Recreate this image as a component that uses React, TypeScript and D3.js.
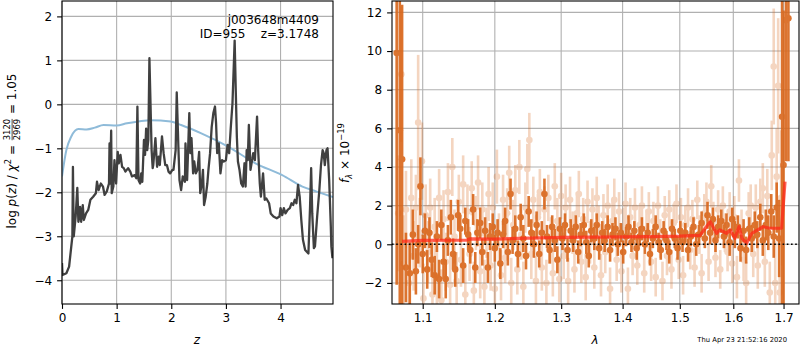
import React, { useEffect, useRef } from 'react';
import * as d3 from 'd3';

const W = 800;
const H = 350;
const FONT = 'DejaVu Sans, sans-serif';
const FS = 12;

// left panel: log p(z) trace (black) and smooth prior-like curve (blue)
const pzPoints: [number, number][] = [
  [0.0, -3.61], [0.01, -3.88], [0.08, -3.84], [0.13, -3.69], [0.17, -3.23], [0.19, -3.0],
  [0.2, -1.42], [0.215, -3.0], [0.25, -2.55], [0.28, -1.9], [0.3, -2.67], [0.33, -2.33],
  [0.35, -2.67], [0.38, -2.29], [0.4, -2.63], [0.44, -2.48], [0.48, -2.4], [0.52, -2.17],
  [0.57, -2.1], [0.62, -2.02], [0.64, -1.76], [0.67, -1.95], [0.71, -1.8], [0.75, -1.87],
  [0.78, -2.06], [0.82, -1.98], [0.86, -1.8], [0.87, -0.89], [0.88, -1.8], [0.9, -0.6],
  [0.91, -2.02], [0.94, -1.87], [0.96, -1.27], [0.99, -1.8], [1.02, -1.08], [1.04, -1.34],
  [1.07, -1.15], [1.1, -1.42], [1.13, -1.45], [1.16, -1.53], [1.21, -1.45], [1.25, -1.53],
  [1.28, -1.64], [1.33, -1.61], [1.36, -1.68], [1.38, -0.05], [1.4, -1.72], [1.43, -1.8],
  [1.45, -1.57], [1.47, -1.76], [1.5, -0.81], [1.52, -1.15], [1.54, -0.55], [1.56, -1.04],
  [1.58, -0.81], [1.6, 1.05], [1.64, -1.04], [1.66, -1.45], [1.67, -1.38], [1.71, -0.77],
  [1.74, -1.42], [1.77, -1.19], [1.79, -1.38], [1.83, -0.73], [1.86, -1.11], [1.89, -1.38],
  [1.92, -1.38], [1.95, -1.53], [1.98, -1.57], [2.02, -1.49], [2.04, -1.49], [2.08, -1.04],
  [2.1, 0.27], [2.13, -0.96], [2.15, -1.72], [2.18, -1.95], [2.21, -1.64], [2.25, -1.76],
  [2.26, -0.89], [2.29, -1.72], [2.33, -0.2], [2.35, -1.11], [2.37, -0.77], [2.4, -1.57],
  [2.42, -1.3], [2.45, -1.57], [2.48, -1.49], [2.51, -1.08], [2.53, -2.02], [2.56, -1.8],
  [2.58, -1.49], [2.6, -2.29], [2.63, -2.1], [2.66, -1.8], [2.68, -1.49], [2.71, -1.11],
  [2.74, -0.51], [2.77, -0.2], [2.8, -0.05], [2.82, -0.43], [2.84, -1.11], [2.87, -0.89],
  [2.9, -1.57], [2.93, -1.27], [2.96, -1.3], [3.0, -1.27], [3.03, -0.92], [3.06, -1.11],
  [3.09, -0.51], [3.12, 0.02], [3.16, 1.45], [3.18, 0.33], [3.2, -0.73], [3.22, -1.3],
  [3.25, -1.5], [3.28, -1.8], [3.31, -1.87], [3.34, -1.34], [3.36, -1.87], [3.38, -1.04],
  [3.4, -1.27], [3.42, -0.47], [3.45, -1.49], [3.5, -1.11], [3.53, -1.27], [3.57, -0.28],
  [3.59, -1.04], [3.62, -1.8], [3.64, -2.1], [3.68, -1.57], [3.71, -2.17], [3.74, -2.14],
  [3.79, -2.25], [3.82, -2.48], [3.87, -2.55], [3.93, -2.59], [3.98, -2.55], [4.0, -2.36],
  [4.03, -2.52], [4.06, -2.36], [4.09, -2.48], [4.13, -2.4], [4.17, -2.36], [4.2, -2.25],
  [4.23, -2.29], [4.26, -2.17], [4.29, -2.25], [4.32, -1.83], [4.35, -2.1], [4.38, -2.63],
  [4.41, -3.08], [4.45, -3.31], [4.48, -3.35], [4.51, -3.39], [4.54, -2.33], [4.56, -1.45],
  [4.58, -2.48], [4.61, -3.27], [4.63, -3.23], [4.67, -2.55], [4.71, -1.95], [4.74, -1.38],
  [4.77, -1.04], [4.79, -1.11], [4.81, -1.38], [4.84, -1.04], [4.86, -1.0], [4.89, -1.72],
  [4.92, -2.78], [4.93, -3.23], [4.95, -3.5],
];

const smoothPoints: [number, number][] = [
  [0.0, -1.64], [0.08, -1.04], [0.17, -0.73], [0.3, -0.56], [0.45, -0.57], [0.6, -0.53],
  [0.76, -0.47], [1.0, -0.48], [1.19, -0.43], [1.4, -0.39], [1.62, -0.36], [1.99, -0.39],
  [2.18, -0.47], [2.55, -0.66], [3.04, -0.96], [3.54, -1.34], [4.03, -1.61], [4.4, -1.87],
  [4.65, -1.98], [4.96, -2.11],
];

const zTicks = [0, 1, 2, 3, 4];
const logTicks = [-4, -3, -2, -1, 0, 1, 2];

// right panel: spectrum points [wavelength, flux, error]
const lightPts: [number, number, number][] = [
  [1.068, 1.6, 3], [1.072, 8.8, 3.5], [1.075, -1.0, 2.5], [1.078, 1.8, 2], [1.082, -2.0, 2],
  [1.085, 2.4, 2], [1.088, -0.6, 1.8], [1.091, 1.9, 1.7], [1.094, 6.3, 3.5], [1.096, 0.6, 1.8],
  [1.099, 4.3, 2.0], [1.101, -2.8, 1.8], [1.104, 1.5, 1.6], [1.107, -0.4, 1.6], [1.11, 1.9, 1.5],
  [1.113, -2.6, 1.6], [1.116, 0.9, 1.5], [1.119, -1.6, 1.5], [1.122, 2.4, 1.5], [1.125, -2.9, 1.6],
  [1.128, 1.3, 1.5], [1.131, -0.9, 1.5], [1.134, 2.7, 1.5], [1.137, -2.1, 1.5], [1.14, 4.0, 1.5],
  [1.143, 0.4, 1.4], [1.146, -1.9, 1.5], [1.149, 2.2, 1.4], [1.152, -0.8, 1.4], [1.155, 3.1, 1.5],
  [1.158, -2.6, 1.5], [1.161, 1.7, 1.4], [1.164, -0.5, 1.4], [1.167, 2.9, 1.4], [1.17, -2.4, 1.5],
  [1.173, 1.1, 1.4], [1.176, 3.2, 1.4], [1.179, -1.4, 1.4], [1.182, 1.8, 1.4], [1.185, -2.2, 1.4],
  [1.188, 0.6, 1.3], [1.191, 2.6, 1.4], [1.194, -1.1, 1.3], [1.197, 1.9, 1.3], [1.2, -2.3, 1.4],
  [1.203, 3.5, 1.4], [1.206, 0.3, 1.3], [1.209, -1.6, 1.3], [1.212, 2.3, 1.3], [1.215, -0.7, 1.3],
  [1.218, 1.6, 1.3], [1.221, 3.7, 1.4], [1.224, -2.0, 1.3], [1.227, 1.0, 1.3], [1.23, 2.8, 1.3],
  [1.233, -1.3, 1.3], [1.236, 4.0, 1.4], [1.239, 0.5, 1.3], [1.242, -2.2, 1.3], [1.245, 1.9, 1.3],
  [1.248, 3.9, 1.3], [1.251, 5.4, 1.4], [1.254, -0.5, 1.3], [1.257, 2.3, 1.2], [1.261, -1.9, 1.3],
  [1.264, 1.4, 1.2], [1.267, 2.7, 1.2], [1.27, -1.2, 1.2], [1.274, 1.8, 1.2], [1.277, -2.0, 1.2],
  [1.28, 2.4, 1.2], [1.284, 0.2, 1.2], [1.287, -1.5, 1.2], [1.29, 3.0, 1.2], [1.294, 1.2, 1.2],
  [1.297, -1.8, 1.2], [1.3, 2.5, 1.2], [1.304, -0.6, 1.2], [1.307, 1.9, 1.2], [1.311, -1.9, 1.2],
  [1.314, 2.3, 1.2], [1.318, 0.6, 1.1], [1.321, -1.3, 1.2], [1.325, 1.6, 1.1], [1.328, 2.6, 1.2],
  [1.332, -0.9, 1.1], [1.335, 1.3, 1.1], [1.339, -1.7, 1.2], [1.342, 2.2, 1.1], [1.346, 0.1, 1.1],
  [1.35, 1.8, 1.1], [1.353, -1.2, 1.1], [1.357, 2.4, 1.1], [1.36, 0.9, 1.1], [1.364, -1.6, 1.1],
  [1.368, 1.5, 1.1], [1.371, -0.4, 1.1], [1.375, 2.0, 1.1], [1.379, -2.3, 1.1], [1.383, 1.2, 1.1],
  [1.386, 2.3, 1.1], [1.39, -0.8, 1.1], [1.394, 1.7, 1.0], [1.398, -1.4, 1.1], [1.402, 0.9, 1.0],
  [1.405, 2.1, 1.1], [1.409, -2.3, 1.1], [1.413, 1.4, 1.0], [1.417, -0.6, 1.0], [1.421, 1.9, 1.0],
  [1.425, -1.1, 1.0], [1.429, 1.0, 1.0], [1.433, 2.0, 1.0], [1.437, -1.5, 1.0], [1.441, 0.8, 1.0],
  [1.445, 1.7, 1.0], [1.449, -0.9, 1.0], [1.453, 1.2, 1.0], [1.457, -1.7, 1.0], [1.461, 2.0, 1.0],
  [1.465, 0.3, 1.0], [1.469, -1.9, 1.0], [1.473, 1.5, 1.0], [1.477, -0.6, 1.0], [1.481, 1.8, 1.0],
  [1.485, -1.3, 1.0], [1.489, 1.1, 1.0], [1.494, 2.1, 1.0], [1.498, -0.8, 1.0], [1.502, 1.4, 1.0],
  [1.506, -1.6, 1.0], [1.51, 1.0, 1.0], [1.515, 1.9, 1.0], [1.519, -0.3, 1.0], [1.523, 1.3, 1.0],
  [1.527, -1.2, 1.0], [1.532, 2.3, 1.0], [1.536, 0.5, 1.0], [1.54, -1.5, 1.0], [1.545, 1.6, 1.0],
  [1.549, 2.2, 1.0], [1.553, -0.9, 1.0], [1.558, 3.0, 1.1], [1.562, 1.2, 1.0], [1.566, -0.7, 1.0],
  [1.571, 1.8, 1.0], [1.575, -1.3, 1.0], [1.58, 2.0, 1.0], [1.584, 0.6, 1.0], [1.589, -0.4, 1.0],
  [1.593, 1.7, 1.0], [1.598, -1.0, 1.0], [1.602, 1.4, 1.1], [1.607, -1.7, 1.1], [1.611, 3.3, 1.1],
  [1.616, 0.7, 1.1], [1.62, -0.8, 1.1], [1.625, -2.0, 1.1], [1.63, 1.6, 1.1], [1.634, 2.0, 1.1],
  [1.639, -0.5, 1.2], [1.644, 1.9, 1.2], [1.648, -1.1, 1.2], [1.653, 2.2, 1.2], [1.658, 2.9, 1.3],
  [1.662, -0.9, 1.3], [1.667, 2.5, 1.4], [1.672, -2.5, 1.6], [1.676, 4.6, 1.8], [1.68, 9.2, 3.0],
  [1.683, -2.0, 2.2], [1.686, 3.5, 2.5], [1.689, 8.2, 3.5], [1.692, -2.5, 3], [1.695, 2.4, 3.5],
];

const darkPts: [number, number, number][] = [
  [1.066, 9.9, 12], [1.07, 5.9, 9], [1.073, 4.4, 8], [1.078, -1.2, 1.8], [1.083, -1.5, 1.6],
  [1.087, 0.5, 1.3], [1.091, -1.4, 1.2], [1.094, 0.0, 1.0], [1.097, 3.0, 1.5], [1.1, -0.5, 1.0],
  [1.103, 0.7, 0.9], [1.106, -1.3, 1.0], [1.109, 0.6, 0.8], [1.112, -0.8, 0.9], [1.116, -1.6, 1.0],
  [1.119, 0.4, 0.8], [1.122, -1.8, 1.0], [1.125, 1.0, 0.8], [1.128, -0.9, 0.9], [1.131, -1.8, 1.0],
  [1.134, 0.2, 0.8], [1.138, 1.4, 0.9], [1.141, -0.5, 0.8], [1.144, -1.3, 0.9], [1.148, 1.5, 0.8],
  [1.151, 0.8, 0.7], [1.155, -1.1, 0.9], [1.158, 1.2, 0.7], [1.162, 0.5, 0.8], [1.165, -0.3, 0.7],
  [1.169, 1.8, 0.8], [1.172, -1.2, 0.8], [1.175, 0.6, 0.7], [1.179, 1.1, 0.8], [1.182, -0.4, 0.7],
  [1.186, 0.7, 0.7], [1.19, -1.2, 0.8], [1.193, 0.4, 0.7], [1.197, 0.9, 0.7], [1.2, -0.2, 0.7],
  [1.204, 0.6, 0.7], [1.208, -1.0, 0.8], [1.212, 0.5, 0.7], [1.215, 1.2, 0.7], [1.219, -0.4, 0.7],
  [1.223, 2.6, 0.8], [1.226, 0.2, 0.7], [1.23, 0.8, 0.7], [1.234, -0.5, 0.7], [1.238, 1.4, 0.7],
  [1.242, 0.3, 0.7], [1.246, -0.6, 0.7], [1.25, 1.7, 0.8], [1.254, 0.6, 0.7], [1.258, 0.0, 0.7],
  [1.262, 1.0, 0.7], [1.266, -0.5, 0.7], [1.27, 0.6, 0.6], [1.274, 2.6, 0.8], [1.278, 0.4, 0.6],
  [1.282, -0.3, 0.7], [1.286, 0.9, 0.6], [1.29, 0.2, 0.6], [1.294, -0.8, 0.7], [1.298, 0.8, 0.6],
  [1.302, 0.3, 0.6], [1.306, 1.0, 0.6], [1.31, -0.3, 0.6], [1.315, 0.7, 0.6], [1.319, 0.2, 0.6],
  [1.323, 0.9, 0.6], [1.327, -0.4, 0.6], [1.331, 0.5, 0.6], [1.336, 1.0, 0.6], [1.34, 0.1, 0.6],
  [1.344, -0.6, 0.6], [1.348, 0.7, 0.6], [1.353, 0.3, 0.6], [1.357, 1.0, 0.6], [1.361, -0.2, 0.6],
  [1.366, 0.6, 0.6], [1.37, 0.2, 0.6], [1.375, 0.9, 0.6], [1.379, -0.3, 0.6], [1.383, 0.5, 0.6],
  [1.388, 0.8, 0.6], [1.392, 0.0, 0.6], [1.397, 0.6, 0.5], [1.401, -0.4, 0.6], [1.406, 0.4, 0.5],
  [1.41, 0.9, 0.6], [1.415, 0.1, 0.5], [1.42, 0.7, 0.5], [1.424, -0.2, 0.6], [1.429, 0.4, 0.5],
  [1.433, 0.8, 0.6], [1.438, 0.0, 0.5], [1.443, 0.6, 0.5], [1.447, -0.5, 0.6], [1.452, 0.3, 0.5],
  [1.457, 0.9, 0.6], [1.462, 0.1, 0.5], [1.466, -0.3, 0.5], [1.471, 0.7, 0.5], [1.476, 0.2, 0.5],
  [1.481, -0.4, 0.6], [1.486, 0.8, 0.5], [1.491, 0.3, 0.5], [1.496, -0.2, 0.6], [1.501, 0.7, 0.5],
  [1.505, 0.1, 0.5], [1.51, 0.6, 0.5], [1.515, -0.3, 0.6], [1.52, 0.4, 0.5], [1.525, 0.9, 0.5],
  [1.53, 0.0, 0.6], [1.535, 0.5, 0.5], [1.54, 1.1, 0.6], [1.546, 0.3, 0.5], [1.551, 1.5, 0.7],
  [1.556, 0.6, 0.6], [1.561, 1.3, 0.6], [1.566, 0.2, 0.6], [1.571, 0.9, 0.6], [1.577, 1.2, 0.6],
  [1.582, 0.4, 0.6], [1.587, 1.0, 0.6], [1.593, 0.1, 0.7], [1.598, 1.3, 0.6], [1.603, 0.5, 0.7],
  [1.609, 0.9, 0.6], [1.614, -0.2, 0.7], [1.62, 0.7, 0.6], [1.625, -0.3, 0.7], [1.631, 0.8, 0.6],
  [1.636, 0.3, 0.7], [1.642, 1.0, 0.7], [1.647, 0.5, 0.7], [1.653, 1.4, 0.7], [1.658, 0.2, 0.8],
  [1.664, 1.0, 0.8], [1.669, 0.6, 0.9], [1.675, 1.7, 0.9], [1.68, 0.4, 1.1], [1.686, 1.9, 1.3],
  [1.691, 0.3, 2.0], [1.697, 6.6, 12], [1.7, 4.1, 8], [1.705, 11.6, 7.3], [1.71, 11.7, 7.4],
];

const modelPoints: [number, number][] = [
  [1.073, 0.15], [1.1, 0.2], [1.14, 0.21], [1.16, 0.22], [1.165, 0.28], [1.2, 0.27],
  [1.25, 0.32], [1.304, 0.36], [1.35, 0.37], [1.4, 0.38], [1.45, 0.4], [1.5, 0.42],
  [1.537, 0.46], [1.556, 1.17], [1.568, 0.57], [1.574, 0.74], [1.587, 0.57], [1.594, 0.74],
  [1.603, 0.31], [1.611, 0.91], [1.617, 0.31], [1.626, 0.05], [1.636, 0.57], [1.659, 0.91],
  [1.672, 0.83], [1.696, 0.83], [1.703, 3.24],
];

const waveTicks = [1.1, 1.2, 1.3, 1.4, 1.5, 1.6, 1.7];
const fluxTicks = [-2, 0, 2, 4, 6, 8, 10, 12];

const fmt = (v: number) => (v < 0 ? '\u2212' + Math.abs(v) : String(v));

export default function App() {
  const ref = useRef<SVGSVGElement>(null);

  useEffect(() => {
    if (!ref.current) return;
    const svg = d3.select(ref.current);
    svg.selectAll('*').remove();

    const L = { x0: 62, x1: 333, y0: 1, y1: 304 };
    const R = { x0: 392, x1: 799, y0: 1, y1: 304 };

    const zX = d3.scaleLinear().domain([0, 4.96]).range([L.x0, L.x1]);
    const pY = d3.scaleLinear().domain([-4.54, 2.35]).range([L.y1, L.y0]);
    const wX = d3.scaleLog().domain([1.06, 1.732]).range([R.x0, R.x1]);
    const fY = d3.scaleLinear().domain([-3.09, 12.59]).range([R.y1, R.y0]);

    const defs = svg.append('defs');
    [['clipL', L], ['clipR', R]].forEach(([id, b]: any) => {
      defs.append('clipPath').attr('id', id)
        .append('rect').attr('x', b.x0).attr('y', b.y0)
        .attr('width', b.x1 - b.x0).attr('height', b.y1 - b.y0);
    });

    const grid = (xs: number[], ys: number[], sx: any, sy: any, b: any) => {
      const g = svg.append('g').attr('stroke', '#b0b0b0').attr('stroke-width', 1.1);
      g.selectAll('.gx').data(xs).join('line')
        .attr('x1', d => sx(d)).attr('x2', d => sx(d)).attr('y1', b.y0).attr('y2', b.y1);
      g.selectAll('.gy').data(ys).join('line')
        .attr('y1', d => sy(d)).attr('y2', d => sy(d)).attr('x1', b.x0).attr('x2', b.x1);
    };
    grid(zTicks, logTicks, zX, pY, L);
    grid(waveTicks, fluxTicks, wX, fY, R);

    // left panel curves
    const gl = svg.append('g').attr('clip-path', 'url(#clipL)');
    gl.append('path').datum(smoothPoints)
      .attr('d', d3.line<[number, number]>().x(d => zX(d[0])).y(d => pY(d[1])).curve(d3.curveMonotoneX))
      .attr('fill', 'none').attr('stroke', '#8fbbd9').attr('stroke-width', 2);
    gl.append('path').datum(pzPoints)
      .attr('d', d3.line<[number, number]>().x(d => zX(d[0])).y(d => pY(d[1])))
      .attr('fill', 'none').attr('stroke', '#404040').attr('stroke-width', 2.3)
      .attr('stroke-linejoin', 'round');

    // right panel spectrum
    const gr = svg.append('g').attr('clip-path', 'url(#clipR)');
    const drawPts = (pts: [number, number, number][], op: number) => {
      const g = gr.append('g').attr('opacity', op);
      g.selectAll('line').data(pts).join('line')
        .attr('x1', d => wX(d[0])).attr('x2', d => wX(d[0]))
        .attr('y1', d => fY(d[1] - d[2])).attr('y2', d => fY(d[1] + d[2]))
        .attr('stroke', '#d9661a').attr('stroke-width', 2.6);
      g.selectAll('circle').data(pts).join('circle')
        .attr('cx', d => wX(d[0])).attr('cy', d => fY(d[1])).attr('r', 3.3)
        .attr('fill', '#d9661a');
    };
    drawPts(lightPts, 0.27);
    drawPts(darkPts, 0.9);

    gr.append('path').datum(modelPoints)
      .attr('d', d3.line<[number, number]>().x(d => wX(d[0])).y(d => fY(d[1])))
      .attr('fill', 'none').attr('stroke', '#ff2a1a').attr('stroke-opacity', 0.75)
      .attr('stroke-width', 3.2).attr('stroke-linejoin', 'round');

    gr.append('line').attr('x1', R.x0).attr('x2', R.x1)
      .attr('y1', fY(0)).attr('y2', fY(0))
      .attr('stroke', '#000').attr('stroke-width', 1.6).attr('stroke-dasharray', '1.6,2.6');

    // axes
    const styleAxis = (g: any) => {
      g.select('.domain').remove();
      g.selectAll('line').attr('stroke', '#000').attr('stroke-width', 1.1);
      g.selectAll('text').attr('font-family', FONT).attr('font-size', FS).attr('fill', '#000');
    };
    const axes: [any, number, number][] = [
      [d3.axisBottom(zX).tickValues(zTicks).tickFormat(d => fmt(+d)), 0, L.y1],
      [d3.axisLeft(pY).tickValues(logTicks).tickFormat(d => fmt(+d)), L.x0, 0],
      [d3.axisBottom(wX).tickValues(waveTicks).tickFormat(d3.format('.1f') as any), 0, R.y1],
      [d3.axisLeft(fY).tickValues(fluxTicks).tickFormat(d => fmt(+d)), R.x0, 0],
    ];
    axes.forEach(([ax, tx, ty]) => {
      svg.append('g').attr('transform', `translate(${tx},${ty})`)
        .call(ax.tickSize(4.9).tickPadding(5)).call(styleAxis);
    });

    [L, R].forEach(b => {
      svg.append('rect').attr('x', b.x0).attr('y', b.y0)
        .attr('width', b.x1 - b.x0).attr('height', b.y1 - b.y0)
        .attr('fill', 'none').attr('stroke', '#000').attr('stroke-width', 1.1);
    });

    const txt = (x: number, y: number, anchor: string, size = FS) =>
      svg.append('text').attr('x', x).attr('y', y).attr('text-anchor', anchor)
        .attr('font-family', FONT).attr('font-size', size).attr('fill', '#000');

    // annotation
    txt(319, 24, 'end').text('j003648m4409');
    txt(319, 38, 'end').attr('xml:space', 'preserve').text('ID=955    z=3.1748');

    // x labels
    txt(197, 344, 'middle').attr('font-style', 'italic').text('z');
    txt(595, 344, 'middle').attr('font-style', 'italic').text('\u03bb');
    txt(787, 342, 'end', 6.8).text('Thu Apr 23 21:52:16 2020');

    // left y label with fraction
    const gy = svg.append('g').attr('transform', 'translate(16,151) rotate(-90)')
      .attr('font-family', FONT).attr('fill', '#000');
    const t1 = gy.append('text').attr('font-size', FS).attr('xml:space', 'preserve');
    t1.append('tspan').text('log ');
    t1.append('tspan').attr('font-style', 'italic').text('p');
    t1.append('tspan').text('(');
    t1.append('tspan').attr('font-style', 'italic').text('z');
    t1.append('tspan').text(') / ');
    t1.append('tspan').attr('font-style', 'italic').text('\u03c7');
    t1.append('tspan').attr('font-size', FS * 0.7).attr('dy', -4.8).text('2');
    t1.append('tspan').attr('dy', 4.8).text(' = ');
    const num = gy.append('text').attr('font-size', FS * 0.7).attr('text-anchor', 'middle').text('3120');
    const den = gy.append('text').attr('font-size', FS * 0.7).attr('text-anchor', 'middle').text('2969');
    const t3 = gy.append('text').attr('font-size', FS).attr('xml:space', 'preserve').text(' = 1.05');
    const w1 = (t1.node() as SVGTextElement).getComputedTextLength();
    const wf = Math.max((num.node() as SVGTextElement).getComputedTextLength(),
      (den.node() as SVGTextElement).getComputedTextLength()) + 2;
    const w3 = (t3.node() as SVGTextElement).getComputedTextLength();
    const start = -(w1 + wf + w3) / 2;
    t1.attr('x', start).attr('y', 0);
    const fc = start + w1 + wf / 2;
    num.attr('x', fc).attr('y', -5.8);
    den.attr('x', fc).attr('y', 4.3);
    gy.append('line').attr('x1', fc - wf / 2 + 1).attr('x2', fc + wf / 2 - 1)
      .attr('y1', -3.9).attr('y2', -3.9).attr('stroke', '#000').attr('stroke-width', 0.7);
    t3.attr('x', start + w1 + wf).attr('y', 0);

    // right y label
    const ry = svg.append('text').attr('transform', 'translate(349,153) rotate(-90)')
      .attr('text-anchor', 'middle').attr('font-family', FONT).attr('font-size', FS)
      .attr('fill', '#000').attr('xml:space', 'preserve');
    ry.append('tspan').attr('font-style', 'italic').text('f');
    ry.append('tspan').attr('font-style', 'italic').attr('font-size', FS * 0.7).attr('dy', 2.5).text('\u03bb');
    ry.append('tspan').attr('dy', -2.5).text(' \u00d7 10');
    ry.append('tspan').attr('font-size', FS * 0.7).attr('dy', -4.8).text('\u221219');
  }, []);

  return (
    <svg ref={ref} width={W} height={H}
      style={{ position: 'absolute', left: 0, top: 0, background: '#fff' }} />
  );
}
